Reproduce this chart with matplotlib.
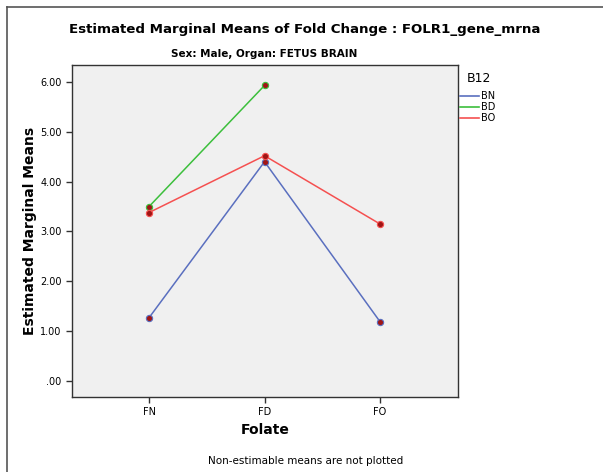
import matplotlib.pyplot as plt
from matplotlib.lines import Line2D
import numpy as np

folate = ["FN", "FD", "FO"]
groups = ["BN", "BD", "BO"]
bn = [1.27, 4.40, 1.19]
bd = [3.50, 5.93, np.nan]
bo = [3.38, 4.52, 3.15]
colors = {"BN": "#5a6fbf", "BD": "#3cbf3c", "BO": "#f55050"}
yticks = [0, 1, 2, 3, 4, 5, 6]

fig = plt.figure(figsize=(6.03, 4.72), dpi=100)
fig.patch.set_facecolor("white")

# outer frame (left and top edges only)
fig.add_artist(Line2D([7 / 603, 7 / 603], [0, 1 - 7 / 472], transform=fig.transFigure,
                      color="#555555", lw=1.2))
fig.add_artist(Line2D([7 / 603, 1], [1 - 7 / 472, 1 - 7 / 472], transform=fig.transFigure,
                      color="#555555", lw=1.2))

ax = fig.add_axes([72 / 603, 1 - 397 / 472, 386 / 603, 332 / 472])
ax.set_facecolor("#f0f0f0")

x = np.arange(len(folate))
for name, vals in zip(groups, [bn, bd, bo]):
    c = colors[name]
    ax.plot(x, vals, color=c, lw=1.1, marker="o", markersize=4.5,
            markerfacecolor="#a01515", markeredgecolor=c, markeredgewidth=0.8,
            label=name)

ax.set_xlim(-0.667, 2.675)
ax.set_ylim(-0.32, 6.34)
ax.set_xticks(x)
ax.set_xticklabels(folate, fontsize=7)
ax.set_yticks(yticks)
ax.set_yticklabels(["%.2f" % v if v != 0 else ".00" for v in yticks], fontsize=7)
ax.tick_params(length=4, width=1, color="#333333")
for s in ax.spines.values():
    s.set_color("#333333")
    s.set_linewidth(1)

ax.set_xlabel("Folate", fontsize=10, fontweight="bold", labelpad=4)
ax.set_ylabel("Estimated Marginal Means", fontsize=10, fontweight="bold", labelpad=2)

fig.text(305 / 603, 1 - 30 / 472, "Estimated Marginal Means of Fold Change : FOLR1_gene_mrna",
         ha="center", va="center", fontsize=9.6, fontweight="bold")
fig.text(264 / 603, 1 - 54 / 472, "Sex: Male, Organ: FETUS BRAIN",
         ha="center", va="center", fontsize=7.5, fontweight="bold")
fig.text(306 / 603, 1 - 461 / 472, "Non-estimable means are not plotted",
         ha="center", va="center", fontsize=7.5)

# legend
fig.text(467 / 603, 1 - 78 / 472, "B12", ha="left", va="center", fontsize=9)
for i, name in enumerate(groups):
    yy = 1 - (96 + i * 11) / 472
    fig.add_artist(Line2D([460 / 603, 479 / 603], [yy, yy], transform=fig.transFigure,
                          color=colors[name], lw=1.2))
    fig.text(481 / 603, yy, name, ha="left", va="center", fontsize=7)

fig.savefig("out.png", dpi=100)
